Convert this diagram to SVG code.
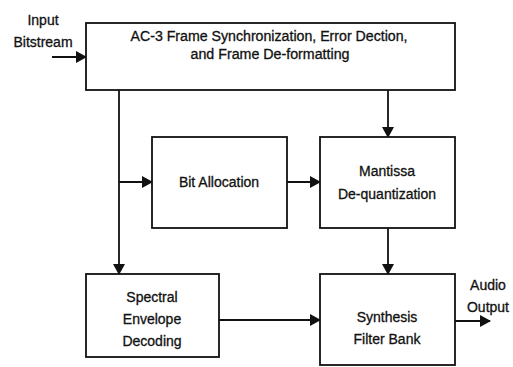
<svg xmlns="http://www.w3.org/2000/svg" width="513" height="367" viewBox="0 0 513 367">
<style>
.box{fill:#fff;stroke:#111;stroke-width:1.8}
.t{font-family:"Liberation Sans",Arial,sans-serif;font-size:14px;fill:#111;stroke:#111;stroke-width:0.3;text-anchor:middle}
.c{fill:none;stroke:#111;stroke-width:1.8}
</style>
<defs>
<marker id="ah" markerWidth="11" markerHeight="12" refX="10" refY="6" orient="auto" markerUnits="userSpaceOnUse">
<path d="M0,0 L11,6 L0,12 Z" fill="#111"/>
</marker>
</defs>
<rect width="513" height="367" fill="#fff"/>
<g id="connectors">
<line class="c" x1="52" y1="57" x2="86" y2="57" marker-end="url(#ah)"/>
<line class="c" x1="119" y1="90" x2="119" y2="274" marker-end="url(#ah)"/>
<line class="c" x1="119" y1="182" x2="152" y2="182" marker-end="url(#ah)"/>
<line class="c" x1="287" y1="182" x2="320" y2="182" marker-end="url(#ah)"/>
<line class="c" x1="388" y1="90" x2="388" y2="137" marker-end="url(#ah)"/>
<line class="c" x1="388" y1="228" x2="388" y2="274" marker-end="url(#ah)"/>
<line class="c" x1="218" y1="320" x2="320" y2="320" marker-end="url(#ah)"/>
<line class="c" x1="455" y1="321" x2="490" y2="321" marker-end="url(#ah)"/>
</g>
<g id="input-label">
<text class="t" x="43" y="25">Input</text>
<text class="t" x="43" y="47">Bitstream</text>
</g>
<g id="frame-sync">
<rect class="box" x="86" y="23" width="369" height="67"/>
<text class="t" x="269" y="41" textLength="277" lengthAdjust="spacingAndGlyphs">AC-3 Frame Synchronization, Error Dection,</text>
<text class="t" x="270" y="59" textLength="159" lengthAdjust="spacingAndGlyphs">and Frame De-formatting</text>
</g>
<g id="bit-allocation">
<rect class="box" x="152" y="137" width="135" height="91"/>
<text class="t" x="219" y="187">Bit Allocation</text>
</g>
<g id="mantissa">
<rect class="box" x="320" y="137" width="135" height="91"/>
<text class="t" x="387" y="176">Mantissa</text>
<text class="t" x="387" y="199">De-quantization</text>
</g>
<g id="spectral">
<rect class="box" x="86" y="274" width="133" height="83"/>
<text class="t" x="152" y="302">Spectral</text>
<text class="t" x="152" y="324">Envelope</text>
<text class="t" x="152" y="346">Decoding</text>
</g>
<g id="synthesis">
<rect class="box" x="320" y="274" width="135" height="91"/>
<text class="t" x="387" y="322">Synthesis</text>
<text class="t" x="387" y="344">Filter Bank</text>
</g>
<g id="audio-label">
<text class="t" x="488" y="290">Audio</text>
<text class="t" x="488" y="312">Output</text>
</g>
</svg>
